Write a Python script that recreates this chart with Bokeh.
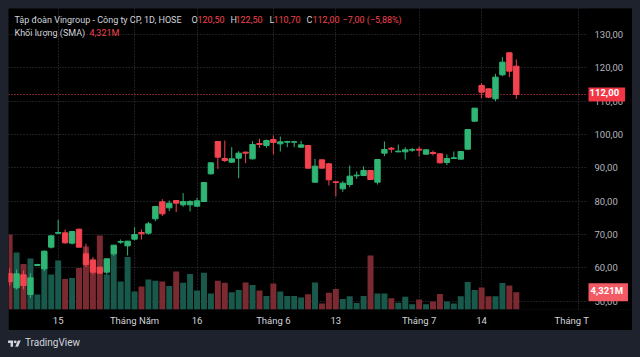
from bokeh.plotting import figure
from bokeh.models import Range1d, FixedTicker, Label, Span, Div, BoxAnnotation
from bokeh.core.properties import value
from bokeh.layouts import column
from bokeh.embed import file_html
from bokeh.resources import INLINE

# ---- data ----
opens = [58.3, 54.0, 57.9, 52.0, 60.7, 59.7, 66.2, 70.4, 70.5, 67.4,
         71.6, 64.2, 62.2, 60.2, 58.7, 64.2, 67.7, 66.6, 68.6, 70.6,
         70.4, 74.7, 79.8, 78.0, 80.2, 78.9, 78.9, 78.5, 79.9, 88.2,
         97.9, 92.8, 91.7, 92.9, 94.7, 92.7, 97.3, 96.7, 98.5, 97.2,
         97.7, 97.7, 96.2, 96.7, 85.7, 92.4, 91.2, 85.8, 83.7, 85.0,
         87.6, 87.7, 89.2, 85.7, 94.4, 95.9, 94.8, 94.8, 95.3, 95.6,
         94.1, 94.6, 94.2, 91.6, 92.8, 92.6, 95.6, 104.0, 114.7, 113.7,
         110.7, 117.9, 124.5, 120.5]
highs = [59.8, 59.5, 59.2, 58.4, 61.2, 65.2, 69.8, 74.4, 71.5, 70.9,
         71.7, 67.2, 63.2, 60.4, 62.8, 66.8, 68.5, 68.1, 72.2, 71.5,
         73.8, 78.5, 80.6, 80.2, 80.3, 82.4, 80.3, 81.0, 85.6, 91.6,
         98.0, 98.2, 96.2, 95.0, 94.9, 98.0, 98.7, 98.5, 99.7, 99.4,
         98.1, 98.1, 98.1, 96.8, 92.7, 92.5, 91.5, 86.0, 86.0, 90.7,
         88.9, 90.5, 89.3, 92.6, 97.9, 96.3, 97.0, 96.2, 96.0, 96.4,
         95.5, 95.2, 94.3, 94.0, 94.9, 94.9, 101.6, 108.0, 115.4, 113.8,
         118.2, 123.2, 124.7, 122.5]
lows = [54.7, 53.5, 53.5, 51.0, 60.6, 59.0, 65.8, 70.2, 67.2, 67.0,
        66.2, 60.2, 58.0, 58.3, 58.0, 63.6, 67.2, 63.7, 68.2, 68.5,
        70.0, 74.0, 75.5, 77.0, 76.7, 78.3, 76.9, 78.4, 79.8, 88.0,
        89.7, 91.7, 91.5, 86.9, 91.4, 92.5, 96.0, 96.0, 94.0, 94.9,
        96.2, 96.2, 96.0, 89.8, 85.5, 89.8, 84.7, 81.4, 82.8, 84.2,
        86.7, 87.5, 86.4, 85.0, 93.5, 94.5, 94.7, 92.5, 94.8, 93.4,
        94.0, 93.7, 91.3, 90.8, 92.7, 92.5, 95.5, 103.8, 110.9, 110.9,
        110.0, 117.5, 117.2, 110.7]
closes = [55.8, 58.2, 54.7, 57.0, 61.0, 65.0, 69.6, 70.6, 67.5, 70.9,
          66.2, 61.0, 58.7, 58.4, 62.7, 66.8, 67.9, 68.0, 70.0, 70.2,
          73.2, 78.4, 76.2, 79.4, 79.4, 79.9, 79.9, 80.1, 85.6, 91.5,
          93.2, 92.2, 92.7, 94.4, 94.4, 97.0, 97.0, 98.2, 97.6, 97.8,
          97.9, 97.8, 96.9, 89.9, 90.5, 89.9, 86.4, 85.6, 85.4, 87.5,
          87.8, 89.2, 86.5, 92.5, 95.5, 95.6, 95.0, 95.4, 95.5, 95.3,
          95.4, 94.3, 91.5, 92.8, 93.0, 94.9, 101.5, 107.9, 112.7, 111.2,
          117.2, 121.7, 119.0, 112.0]
volumes_m = [18.75, 14.25, 11.4, 12.75, 3.75, 13.1, 8.75, 12.25, 7.6, 7.9,
             10.4, 15.75, 12.7, 18.5, 8.75, 14.3, 7.0, 13.1, 4.5, 5.75,
             7.5, 7.2, 7.0, 5.9, 9.5, 6.7, 8.9, 4.75, 9.2, 4.0,
             7.2, 6.7, 4.3, 4.9, 6.75, 6.1, 4.75, 3.4, 6.5, 4.5,
             3.4, 3.4, 3.0, 3.8, 6.75, 1.5, 4.2, 5.1, 2.6, 3.3,
             1.6, 3.4, 13.5, 4.0, 4.0, 2.8, 1.7, 3.2, 1.3, 2.5,
             1.3, 2.0, 3.9, 2.0, 1.5, 3.3, 6.9, 4.9, 5.5, 3.3,
             3.3, 6.6, 6.0, 4.321]

time_ticks = [7, 18, 27, 38, 47, 59, 68, 82]
time_labels = ["15", "Tháng Năm", "16", "Tháng 6", "13", "Tháng 7", "14", "Tháng T"]
price_ticks = [50, 60, 70, 80, 90, 100, 110, 120, 130]
price_labels = ["50,00", "60,00", "70,00", "80,00", "90,00", "100,00", "110,00", "120,00", "130,00"]

# ---- styles ----
UP = "#2fb574"
DOWN = "#f2434f"
UP_VOL = "#19594c"
DOWN_VOL = "#7c2a31"
TXT = "#d1d4dc"
AXT = "#b2b5be"
GRID = "#3a3e4a"
FONT = "Roboto"

BAR_PX = 6.941          # pixels per bar
X0 = -0.16              # left edge of the pane (bar units)
PANE_RIGHT = 83.26      # right edge of the price pane (bar units)
SCALE_X = 84.27         # where the price-scale texts start (bar units)
CLIP_SHIFT = 1.0        # last time label is cut by the price scale, so its visible part sits left

idx = list(range(len(closes)))
is_up = [c >= o for o, c in zip(opens, closes)]
colors = [UP if u else DOWN for u in is_up]
vcolors = [UP_VOL if u else DOWN_VOL for u in is_up]
body_top = [max(o, c) for o, c in zip(opens, closes)]
body_bot = [min(o, c) for o, c in zip(opens, closes)]

p = figure(frame_width=624, frame_height=301,
           x_range=Range1d(X0, X0 + 624 / BAR_PX), y_range=Range1d(47.5, 137.8),
           output_backend="svg", toolbar_location=None,
           y_axis_location=None,
           min_border_left=0, min_border_top=0, min_border_right=0, min_border_bottom=21,
           background_fill_color="#000000", border_fill_color="#000000",
           outline_line_color=None)
p.margin = (8, 8, 0, 8)
p.extra_y_ranges = {"vol": Range1d(0, 75.25)}

# grid
label_ticks = time_ticks[:-1] + [time_ticks[-1] - CLIP_SHIFT]
p.xaxis.ticker = FixedTicker(ticks=label_ticks)
p.xgrid.ticker = FixedTicker(ticks=time_ticks)
p.ygrid.ticker = FixedTicker(ticks=price_ticks)
for g in (p.xgrid, p.ygrid):
    g.grid_line_color = GRID
    g.grid_line_dash = "1 2"
    g.grid_line_width = 1

p.xaxis.major_label_overrides = dict(zip(label_ticks, time_labels))
p.xaxis.axis_line_color = None
p.xaxis.major_tick_line_color = None
p.xaxis.minor_tick_line_color = None
p.xaxis.major_tick_out = 0
p.xaxis.major_tick_in = 0
p.xaxis.minor_tick_out = 0
p.xaxis.major_label_text_font = FONT
p.xaxis.major_label_text_font_size = "9.5px"
p.xaxis.major_label_text_color = TXT
p.xaxis.major_label_standoff = 5

# last price line (behind the price scale cover)
p.add_layout(Span(location=closes[-1], dimension="width", line_color=DOWN,
                  line_dash="1 2", line_width=1, level="underlay"))
# price scale area (black, hides grid lines)
p.add_layout(BoxAnnotation(left=PANE_RIGHT, fill_color="#000000", fill_alpha=1,
                           line_color=None, level="underlay"))

# volume
p.vbar(x=idx, top=volumes_m, bottom=0, width=0.86, y_range_name="vol",
       fill_color=vcolors, line_color=None)

# candles
p.segment(x0=idx, y0=lows, x1=idx, y1=highs, line_color=colors, line_width=1)
p.vbar(x=idx, top=body_top, bottom=body_bot, width=0.78,
       fill_color=colors, line_color=colors, line_width=1)

# price scale labels
p.text(x=[SCALE_X] * len(price_ticks), y=price_ticks, text=price_labels,
       text_color=AXT, text_font=value(FONT),
       text_font_size="9.5px", text_align="left", text_baseline="middle")


def fmt(v, d=2):
    return f"{v:.{d}f}".replace(".", ",")


# price tags on the scale
p.add_layout(Label(x=580, y=closes[-1], x_units="screen", y_units="data",
                   text=fmt(closes[-1]), text_color="#ffffff", text_font=FONT,
                   text_font_size="9.5px", text_font_style="bold",
                   text_baseline="middle", background_fill_color="#f23645",
                   padding=(1, 6, 1, 6)))
p.add_layout(Label(x=580, y=volumes_m[-1], x_units="screen", y_units="data",
                   y_range_name="vol",
                   text=fmt(volumes_m[-1], 3) + "M", text_color="#ffffff", text_font=FONT,
                   text_font_size="9.5px", text_font_style="bold",
                   text_baseline="middle", background_fill_color="#f25a64",
                   padding=(2, 5, 2, 5)))

# legend header
chg = closes[-1] - closes[-2]
pct = chg / closes[-2] * 100
head1 = [
    (6, "Tập đoàn Vingroup - Công ty CP, 1D, HOSE", TXT),
    (183, "O", TXT), (189, fmt(opens[-1]), DOWN),
    (222, "H", TXT), (227, fmt(highs[-1]), DOWN),
    (261, "L", TXT), (265, fmt(lows[-1]), DOWN),
    (298, "C", TXT), (304, fmt(closes[-1]), DOWN),
    (334, "−" + fmt(abs(chg)) + " (−" + fmt(abs(pct)) + "%)", DOWN),
]
for x, t, c in head1:
    p.add_layout(Label(x=x, y=290, x_units="screen", y_units="screen", text=t,
                       text_color=c, text_font=FONT, text_font_size="9px",
                       text_baseline="middle"))
head2 = [
    (6, "Khối lượng (SMA)", TXT),
    (81, fmt(volumes_m[-1], 3) + "M", DOWN),
]
for x, t, c in head2:
    p.add_layout(Label(x=x, y=277, x_units="screen", y_units="screen", text=t,
                       text_color=c, text_font=FONT, text_font_size="9px",
                       text_baseline="middle"))

logo = Div(text=(
    '<div style="display:flex;align-items:center;height:27px;padding-left:8px;'
    'color:#d1d4dc;font-family:Roboto;font-size:10px;">'
    '<svg width="13" height="10" viewBox="0 0 36 28">'
    '<path fill="#d1d4dc" d="M14 22H7V11H0V4h14v18zM28 22h-8l7.5-18h8L28 22z"/>'
    '<circle fill="#d1d4dc" cx="20" cy="8" r="4"/></svg>'
    '<span style="margin-left:4px">TradingView</span></div>'),
    width=640, height=27, margin=0)

root = column(p, logo, width=640, height=357, spacing=0,
              styles={"background-color": "#1e222d"})

open("out.html", "w").write(file_html(root, INLINE))
